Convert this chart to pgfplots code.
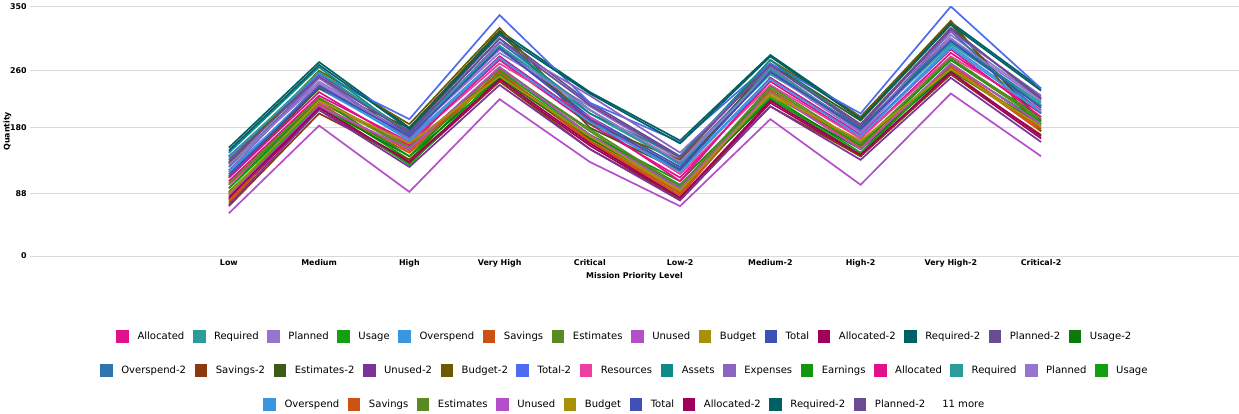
\documentclass[border=0pt]{standalone}
\usepackage{pgfplots}
\usepackage{pgfplotstable}
\pgfplotsset{compat=1.18}
\usepackage{fontspec}
\setmainfont{DejaVu Sans}
\definecolor{c1}{HTML}{E0118A}\definecolor{c2}{HTML}{2A9D9A}\definecolor{c3}{HTML}{9575CD}
\definecolor{c4}{HTML}{13A010}\definecolor{c5}{HTML}{3B96DD}\definecolor{c6}{HTML}{CC5214}
\definecolor{c7}{HTML}{5A8A22}\definecolor{c8}{HTML}{B44FC9}\definecolor{c9}{HTML}{A8900B}
\definecolor{c10}{HTML}{3F51B5}\definecolor{c11}{HTML}{A0005A}\definecolor{c12}{HTML}{006064}
\definecolor{c13}{HTML}{6A4C93}\definecolor{c14}{HTML}{0B7A0B}\definecolor{c15}{HTML}{2E75B0}
\definecolor{c16}{HTML}{8B3A10}\definecolor{c17}{HTML}{3D5A16}\definecolor{c18}{HTML}{7B3396}
\definecolor{c19}{HTML}{6B5A00}\definecolor{c20}{HTML}{4E6CEF}\definecolor{c21}{HTML}{EC3FA0}
\definecolor{c22}{HTML}{0E8A8A}\definecolor{c23}{HTML}{8A64C0}\definecolor{c24}{HTML}{129612}
\pgfplotstableread{
name c0 c1 c2 c3 c4 c5 c6 c7 c8 c9
s1 105 225 160 275 185 110 245 165 285 200
s2 140 250 175 290 200 130 255 180 300 215
s3 130 245 170 285 210 135 260 175 310 220
s4 95 215 135 260 170 100 225 145 270 185
s5 120 235 165 280 190 120 250 170 295 205
s6 75 210 145 255 160 85 230 150 265 175
s7 100 220 150 265 175 95 235 155 275 190
s8 60 183 90 220 132 70 192 100 228 140
s9 85 215 155 250 165 90 225 160 260 180
s10 115 240 170 295 195 125 260 180 305 210
s11 80 205 130 245 155 80 215 140 255 165
s12 152 272 180 316 230 162 282 195 328 235
s13 135 255 175 310 215 140 270 185 320 220
s14 90 210 140 250 165 95 220 150 260 185
s15 125 250 165 300 205 130 265 175 315 200
s16 70 200 135 245 150 80 210 140 255 170
s17 110 235 180 315 180 120 270 190 325 190
s18 72 205 125 240 150 78 210 135 250 160
s19 130 260 185 320 185 135 275 195 330 175
s20 140 255 192 338 215 160 270 200 350 235
s21 100 215 160 270 195 115 240 165 280 205
s22 145 265 170 305 200 140 275 180 305 210
s23 120 250 165 300 225 145 265 175 315 225
s24 95 220 140 265 170 105 230 155 275 195
s25 110 230 155 280 190 105 250 170 290 195
s26 138 258 172 295 205 128 262 178 298 212
s27 128 242 168 290 205 132 258 172 305 218
s28 88 212 128 255 168 98 222 142 268 188
s29 118 238 162 278 188 118 248 168 292 202
s30 78 212 148 258 162 88 232 152 268 178
s31 102 222 152 262 178 98 238 158 278 192
s32 85 210 150 265 170 95 230 150 270 185
s33 88 218 158 252 168 92 228 162 262 182
s34 112 238 168 292 192 122 258 178 302 208
s35 82 208 132 248 158 82 218 142 258 168
s36 148 268 178 312 228 158 280 192 325 232
s37 132 252 172 305 212 138 268 182 318 222
}\raw
\pgfplotstabletranspose[colnames from=name]\data\raw
\pgfplotsset{
 base/.style={scale only axis, width=1138bp, height=235bp,
  xmin=-2.2, xmax=11.19, ymin=0, ymax=350,
  axis line style={draw=none}, tick style={draw=none},
  legend style={draw=none, fill=none, font=\fontsize{9.5}{11}\selectfont, column sep=6bp, anchor=center},
  legend image code/.code={\fill[##1,draw=none] (0bp,-6bp) rectangle (12bp,6bp);},
  every axis plot/.append style={line width=1.6pt}},
 hid/.style={base, xtick=\empty, ytick=\empty, yticklabels={}, xticklabels={}}
}
\newcommand\Pl[2]{\addplot[color=#1] table[x expr=\coordindex, y=#2]{\data};}
\begin{document}
\begin{tikzpicture}
\begin{axis}[base,
  ytick={0,88,180,260,350}, ymajorgrids, grid style={gray!30, line width=0.6pt},
  xtick={0,...,9}, xticklabels={Low,Medium,High,Very High,Critical,Low-2,Medium-2,High-2,Very High-2,Critical-2},
  ticklabel style={font=\fontsize{7.5}{9}\selectfont\bfseries}, /pgf/number format/assume math mode=true,
  xlabel={\bfseries Mission Priority Level}, ylabel={\bfseries Quantity},
  label style={font=\fontsize{7.5}{9}\selectfont},
  xlabel style={yshift=2bp}, ylabel style={yshift=-8bp},
  legend columns=14, legend style={at={(0.492,-0.323)}}]
\Pl{c1}{s1}\addlegendentry{Allocated}\Pl{c2}{s2}\addlegendentry{Required}
\Pl{c3}{s3}\addlegendentry{Planned}\Pl{c4}{s4}\addlegendentry{Usage}
\Pl{c5}{s5}\addlegendentry{Overspend}\Pl{c6}{s6}\addlegendentry{Savings}
\Pl{c7}{s7}\addlegendentry{Estimates}\Pl{c8}{s8}\addlegendentry{Unused}
\Pl{c9}{s9}\addlegendentry{Budget}\Pl{c10}{s10}\addlegendentry{Total}
\Pl{c11}{s11}\addlegendentry{Allocated-2}\Pl{c12}{s12}\addlegendentry{Required-2}
\Pl{c13}{s13}\addlegendentry{Planned-2}\Pl{c14}{s14}\addlegendentry{Usage-2}
\end{axis}
\begin{axis}[hid, legend columns=14, legend style={at={(0.492,-0.46)}}]
\Pl{c15}{s15}\addlegendentry{Overspend-2}\Pl{c16}{s16}\addlegendentry{Savings-2}
\Pl{c17}{s17}\addlegendentry{Estimates-2}\Pl{c18}{s18}\addlegendentry{Unused-2}
\Pl{c19}{s19}\addlegendentry{Budget-2}\Pl{c20}{s20}\addlegendentry{Total-2}
\Pl{c21}{s21}\addlegendentry{Resources}\Pl{c22}{s22}\addlegendentry{Assets}
\Pl{c23}{s23}\addlegendentry{Expenses}\Pl{c24}{s24}\addlegendentry{Earnings}
\Pl{c1}{s25}\addlegendentry{Allocated}\Pl{c2}{s26}\addlegendentry{Required}
\Pl{c3}{s27}\addlegendentry{Planned}\Pl{c4}{s28}\addlegendentry{Usage}
\end{axis}
\begin{axis}[hid, legend columns=10, legend style={at={(0.492,-0.596)}}]
\Pl{c5}{s29}\addlegendentry{Overspend}\Pl{c6}{s30}\addlegendentry{Savings}
\Pl{c7}{s31}\addlegendentry{Estimates}\Pl{c8}{s32}\addlegendentry{Unused}
\Pl{c9}{s33}\addlegendentry{Budget}\Pl{c10}{s34}\addlegendentry{Total}
\Pl{c11}{s35}\addlegendentry{Allocated-2}\Pl{c12}{s36}\addlegendentry{Required-2}
\Pl{c13}{s37}\addlegendentry{Planned-2}
\addlegendimage{empty legend}\addlegendentry{11 more}
\end{axis}
\end{tikzpicture}
\end{document}
